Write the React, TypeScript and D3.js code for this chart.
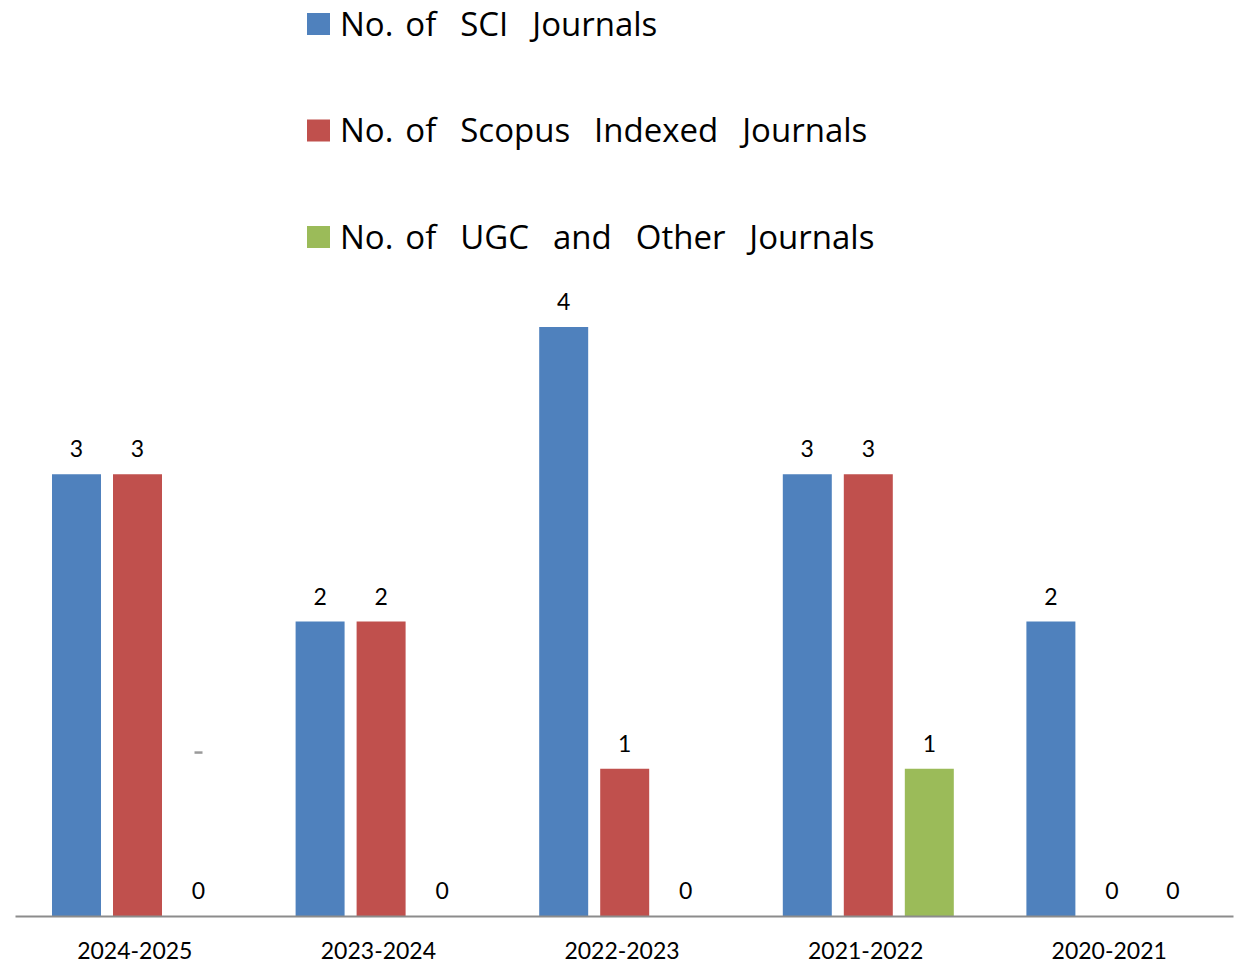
import React, { useEffect, useRef } from 'react';
import * as d3 from 'd3';

// chart data
const categories = ['2024-2025', '2023-2024', '2022-2023', '2021-2022', '2020-2021'];
const seriesNames = [
  'No. of  SCI  Journals',
  'No. of  Scopus  Indexed  Journals',
  'No. of  UGC  and  Other  Journals',
];
const sciValues = [3, 2, 4, 3, 2];
const scopusValues = [3, 2, 1, 3, 0];
const ugcValues = [0, 0, 0, 1, 0];
const colors = ['#4F81BD', '#C0504D', '#9BBB59'];
// stray grey dash drawn by the original chart over the first green slot
const strayDash = { category: '2024-2025', series: 2, value: 1.11 };

const WIDTH = 1237;
const HEIGHT = 964;
const FONT = 'Lato, "Open Sans", sans-serif';
const LEGEND_FONT = '"Open Sans", Lato, sans-serif';

const App = () => {
  const ref = useRef<SVGSVGElement | null>(null);

  useEffect(() => {
    const svg = d3.select(ref.current);
    svg.selectAll('*').remove();

    const seriesValues = [sciValues, scopusValues, ugcValues];
    const keys = seriesNames.map((_, i) => i);

    const x0 = d3.scaleBand<string>().domain(categories).range([15, 1233]);
    const x1 = d3.scaleBand<number>().domain(keys).range([37, 208]).paddingInner(0.197);
    const y = d3.scaleLinear().domain([0, 4]).range([916, 327]);

    // bars + value labels
    categories.forEach((cat, ci) => {
      const g = svg.append('g').attr('transform', `translate(${x0(cat)},0)`);
      keys.forEach(k => {
        const v = seriesValues[k][ci];
        const bx = x1(k)!;
        if (v > 0) {
          g.append('rect')
            .attr('x', bx)
            .attr('y', y(v))
            .attr('width', x1.bandwidth())
            .attr('height', y(0) - y(v))
            .attr('fill', colors[k]);
        }
        g.append('text')
          .attr('x', bx + x1.bandwidth() / 2)
          .attr('y', y(v) - 17)
          .attr('text-anchor', 'middle')
          .style('font-family', FONT)
          .style('font-size', '23px')
          .attr('fill', '#000')
          .text(v);
      });
    });

    // stray dash
    const dx = x0(strayDash.category)! + x1(strayDash.series)! + x1.bandwidth() / 2;
    svg.append('line')
      .attr('x1', dx - 4)
      .attr('x2', dx + 4)
      .attr('y1', y(strayDash.value))
      .attr('y2', y(strayDash.value))
      .attr('stroke', '#9a9a9a')
      .attr('stroke-width', 2.5);

    // x axis
    const axis = svg.append('g')
      .attr('transform', `translate(0,${y(0)})`)
      .call(d3.axisBottom(x0).tickSize(0).tickPadding(27));
    axis.select('.domain').attr('stroke', '#8c8c8c').attr('stroke-width', 2);
    axis.selectAll('text')
      .attr('dx', -2)
      .style('font-family', FONT)
      .style('font-size', '23px')
      .attr('fill', '#000');

    // legend
    const ly = d3.scaleBand<number>().domain(keys).range([13, 13 + 3 * 106.5]);
    keys.forEach(k => {
      const row = svg.append('g').attr('transform', `translate(307,${ly(k)})`);
      row.append('rect').attr('width', 23).attr('height', 22).attr('fill', colors[k]);
      row.append('text')
        .attr('x', 33)
        .attr('y', 22.5)
        .style('font-family', LEGEND_FONT)
        .style('font-size', '33px')
        .style('word-spacing', '3.4px')
        .style('white-space', 'pre')
        .attr('fill', '#000')
        .text(seriesNames[k]);
    });
  }, []);

  return (
    <svg
      ref={ref}
      width={WIDTH}
      height={HEIGHT}
      style={{ position: 'absolute', left: 0, top: 0, background: '#fff' }}
    />
  );
};

export default App;
